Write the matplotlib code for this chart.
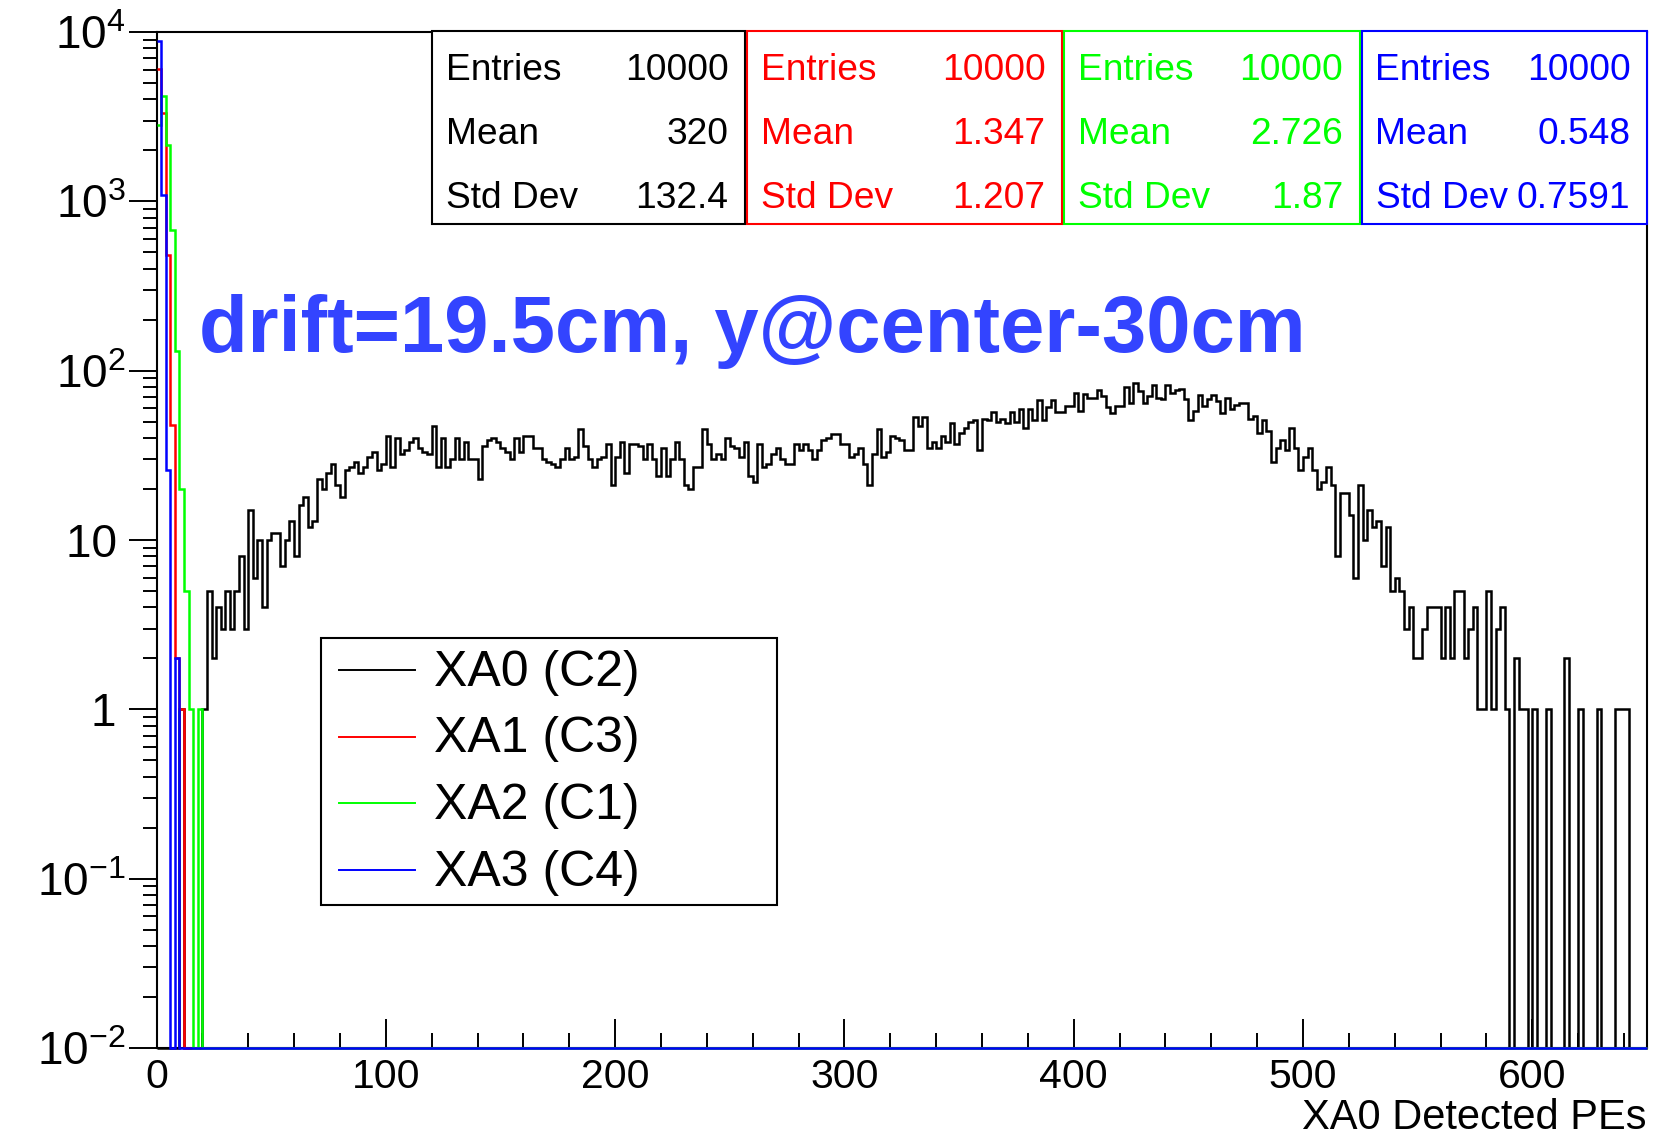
"""ROOT-style overlay of four PE histograms on a log scale."""

import matplotlib

matplotlib.use("Agg")
import matplotlib.pyplot as plt
import numpy as np
from matplotlib.lines import Line2D
from matplotlib.patches import Rectangle

# ---- data (bin width 2 PE, 0..650) ----
bin_width = 2
x_max = 650

# XA0 (C2) counts per bin
black_counts = [
    0, 0, 0, 0, 0, 1, 0, 0, 0, 0,
    1, 5, 2, 4, 3, 5, 3, 5, 8, 3,
    15, 6, 10, 4, 10, 11, 11, 7, 10, 13,
    8, 16, 18, 12, 13, 23, 20, 25, 28, 21,
    18, 26, 27, 29, 25, 27, 31, 33, 26, 28,
    41, 27, 40, 32, 34, 38, 40, 35, 33, 32,
    47, 27, 40, 27, 30, 40, 30, 38, 30, 30,
    23, 36, 39, 40, 38, 35, 33, 30, 40, 33,
    41, 41, 35, 35, 30, 29, 28, 27, 30, 35,
    30, 31, 45, 36, 30, 27, 30, 31, 37, 21,
    31, 38, 25, 37, 37, 36, 30, 37, 30, 24,
    35, 24, 30, 38, 30, 21, 20, 27, 27, 45,
    37, 30, 32, 30, 40, 36, 35, 31, 38, 24,
    22, 37, 27, 28, 32, 35, 30, 28, 28, 37,
    34, 37, 34, 30, 34, 39, 40, 42, 42, 37,
    37, 31, 32, 35, 28, 21, 32, 45, 31, 33,
    41, 40, 39, 34, 34, 53, 47, 53, 35, 38,
    35, 41, 38, 49, 37, 43, 46, 50, 51, 34,
    52, 51, 57, 50, 52, 49, 57, 50, 59, 46,
    59, 51, 67, 51, 61, 67, 57, 57, 62, 62,
    74, 58, 73, 69, 69, 77, 71, 61, 56, 62,
    62, 80, 64, 84, 76, 64, 71, 82, 69, 68,
    82, 74, 77, 78, 68, 51, 58, 72, 62, 68,
    72, 66, 56, 69, 59, 63, 64, 64, 52, 54,
    43, 51, 44, 29, 35, 39, 34, 46, 35, 26,
    31, 35, 26, 20, 22, 27, 21, 8, 19, 19,
    14, 6, 21, 10, 15, 12, 13, 7, 12, 5,
    6, 5, 3, 4, 2, 2, 3, 4, 4, 4,
    2, 4, 2, 5, 5, 2, 3, 4, 1, 1,
    5, 1, 3, 4, 1, 0, 2, 1, 1, 0,
    1, 0, 0, 1, 0, 0, 0, 2, 0, 0,
    1, 0, 0, 0, 1, 0, 0, 0, 1, 1,
    1, 0, 0, 0, 0,
]
# the other channels are only filled in the first few bins
red_counts = [6070, 3330, 483, 48, 2, 1]
green_counts = [2820, 4170, 2140, 680, 131, 20, 5, 1, 0, 1]
blue_counts = [8850, 1087, 26, 0, 2]

series_names = ["XA0 (C2)", "XA1 (C3)", "XA2 (C1)", "XA3 (C4)"]
series_colors = ["#000000", "#ff0000", "#00ff00", "#0000ff"]

stat_entries = ["10000", "10000", "10000", "10000"]
stat_means = ["320", "1.347", "2.726", "0.548"]
stat_stddevs = ["132.4", "1.207", "1.87", "0.7591"]

y_ticks = [1e-2, 1e-1, 1, 10, 1e2, 1e3, 1e4]
y_tick_labels = [r"$10^{-2}$", r"$10^{-1}$", "1\u2009", "10\u2009", r"$10^{2}$", r"$10^{3}$", r"$10^{4}$"]

title_text = "drift=19.5cm, y@center-30cm"
x_title = "XA0 Detected PEs"

# ---- figure ----
plt.rcParams["font.family"] = ["Liberation Sans", "DejaVu Sans"]
plt.rcParams["mathtext.fontset"] = "custom"
plt.rcParams["mathtext.rm"] = "Liberation Sans"
plt.rcParams["mathtext.it"] = "Liberation Sans:italic"
plt.rcParams["mathtext.bf"] = "Liberation Sans:bold"

W, H = 1659, 1142


def fx(px):
    return px / W


def fy(py):
    return 1 - py / H


fig = plt.figure(figsize=(W / 100, H / 100), dpi=100)
ax = fig.add_axes([fx(156.5), fy(1048), fx(1647) - fx(156.5), fy(32) - fy(1048)])

y_min, y_max = 1e-2, 1e4
n_bins = x_max // bin_width
edges = np.arange(0, x_max + bin_width, bin_width)

for counts, color in zip([black_counts, red_counts, green_counts, blue_counts], series_colors):
    c = np.zeros(n_bins)
    c[: len(counts)] = counts
    vals = np.where(c > 0, c, y_min)  # empty bins are drawn on the floor like ROOT
    ax.stairs(vals, edges, baseline=None, color=color, lw=1.8, clip_on=False, zorder=3)

ax.set_yscale("log")
ax.set_xlim(0, x_max)
ax.set_ylim(y_min, y_max)

ax.set_yticks(y_ticks)
ax.set_yticklabels(y_tick_labels)
ax.yaxis.set_minor_locator(matplotlib.ticker.LogLocator(base=10, subs=np.arange(2, 10)))
ax.yaxis.set_minor_formatter(matplotlib.ticker.NullFormatter())
ax.xaxis.set_major_locator(matplotlib.ticker.MultipleLocator(100))
ax.xaxis.set_minor_locator(matplotlib.ticker.MultipleLocator(20))

ax.tick_params(axis="x", which="both", direction="in", top=False, labelsize=29.5, pad=7, width=1.4)
ax.tick_params(axis="x", which="major", length=21)
ax.tick_params(axis="x", which="minor", length=11)
ax.tick_params(axis="y", which="both", direction="out", right=False, labelsize=33, pad=2, width=1.4)
ax.tick_params(axis="y", which="major", length=20)
ax.tick_params(axis="y", which="minor", length=10)
for sp in ax.spines.values():
    sp.set_linewidth(1.5)

fig.text(fx(1647), fy(1118), x_title, fontsize=30, ha="right", va="center")

# ---- title ----
fig.text(fx(199), fy(352), title_text, fontsize=57.3, fontweight="bold",
         color="#3344ff", ha="left", va="baseline")

# ---- stat boxes ----
box_x = [(432, 745), (747, 1062), (1064, 1359.5), (1361.5, 1647)]
row_y = [70, 134, 198]
for (x0, x1), color, ent, mean, sd in zip(box_x, series_colors, stat_entries, stat_means, stat_stddevs):
    fig.add_artist(Rectangle((fx(x0), fy(224)), fx(x1) - fx(x0), fy(31.5) - fy(224),
                             transform=fig.transFigure, facecolor="white",
                             edgecolor=color, lw=1.5, zorder=4))
    for label, value, y in zip(["Entries", "Mean", "Std Dev"], [ent, mean, sd], row_y):
        fig.text(fx(x0 + 14), fy(y), label, fontsize=26.7, color=color,
                 ha="left", va="center", zorder=5)
        fig.text(fx(x1 - 16.5), fy(y), value, fontsize=26.7, color=color,
                 ha="right", va="center", zorder=5)

# ---- legend ----
fig.add_artist(Rectangle((fx(320.5), fy(904.5)), fx(776.5) - fx(320.5), fy(638) - fy(904.5),
                         transform=fig.transFigure, facecolor="white",
                         edgecolor="black", lw=1.5, zorder=4))
legend_y = [673, 739.5, 806, 872.5]
for name, color, y in zip(series_names, series_colors, legend_y):
    fig.add_artist(Line2D([fx(338.5), fx(414.5)], [fy(y - 3), fy(y - 3)], transform=fig.transFigure,
                          color=color, lw=1.4, zorder=5))
    fig.text(fx(434), fy(y), name, fontsize=36, ha="left", va="center", zorder=5)

fig.savefig("out.png", dpi=100)
